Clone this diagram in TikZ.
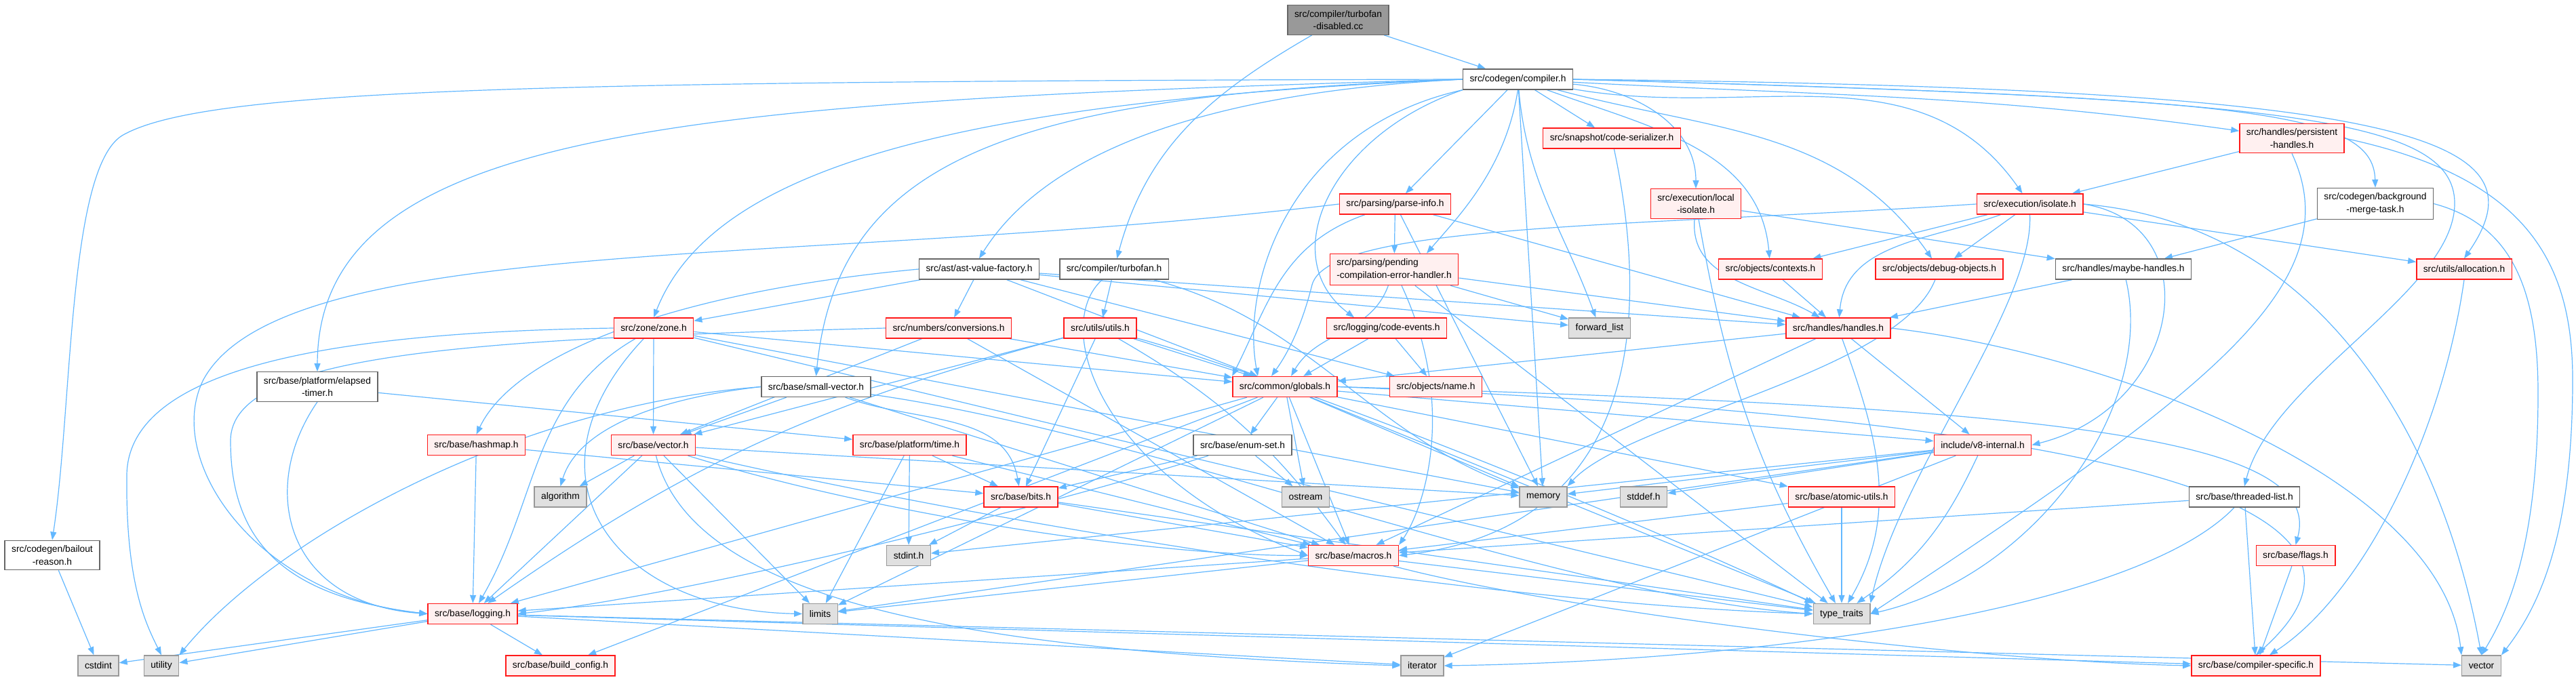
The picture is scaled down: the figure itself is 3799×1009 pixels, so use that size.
\documentclass[tikz,border=0pt]{standalone}
\usepackage{fontspec}
\setmainfont{Liberation Sans}
\usetikzlibrary{arrows.meta}
\pgfdeclarelayer{background}
\pgfsetlayers{background,main}
\definecolor{linkblue}{HTML}{63B8FF}
\definecolor{cutred}{HTML}{FF1A1A}
\definecolor{cutfill}{HTML}{FFF0F0}
\definecolor{sysfill}{HTML}{E0E0E0}
\definecolor{sysline}{HTML}{999999}
\definecolor{fileline}{HTML}{666666}

\begin{document}
\begin{tikzpicture}[
  x=1pt, y=-1pt,
  box/.style={rectangle, line width=1.4pt, inner xsep=10pt, inner ysep=7.5pt, minimum height=30pt, align=center, font=\fontsize{13.8}{18.3}\selectfont},
  rootfile/.style={box, draw=fileline, fill=sysline},
  hfile/.style={box, draw=fileline, fill=white},
  hcut/.style={box, draw=cutred, fill=cutfill},
  stdhdr/.style={box, draw=sysline, fill=sysfill},
  dep/.style={draw=linkblue, line width=1.2pt, -{Triangle[length=12pt,width=9pt]}},
  deps/.style={every edge/.style={dep}}
]
\useasboundingbox (0,0) rectangle (3799,1009);

% top rows
\node[rootfile] (tfd) at (1973.5,29.5) {src/compiler/turbofan\\-disabled.cc};
\node[hfile] (cc) at (2238.5,117) {src/codegen/compiler.h};
\node[hcut] (ser) at (2377,204) {src/snapshot/code-serializer.h};
\node[hcut] (per) at (3380,204) {src/handles/persistent\\-handles.h};
\node[hcut] (pinfo) at (2057.5,301) {src/parsing/parse-info.h};
\node[hcut] (liso) at (2501,300.5) {src/execution/local\\-isolate.h};
\node[hcut] (iso) at (2993.5,301) {src/execution/isolate.h};
\node[hfile] (bgm) at (3503,300.5) {src/codegen/background\\-merge-task.h};
\node[hfile] (avf) at (1444,397) {src/ast/ast-value-factory.h};
\node[hfile] (tfh) at (1643,397) {src/compiler/turbofan.h};
\node[hcut, align=left] (pend) at (2056,397.5) {src/parsing/pending\\-compilation-error-handler.h};
\node[hcut] (ctx) at (2611,397) {src/objects/contexts.h};
\node[hcut] (dbg) at (2860,397) {src/objects/debug-objects.h};
\node[hfile] (mh) at (3131.5,397) {src/handles/maybe-handles.h};
\node[hcut] (alloc) at (3634,397) {src/utils/allocation.h};
\node[hcut] (zone) at (964,484) {src/zone/zone.h};
\node[hcut] (conv) at (1399,484) {src/numbers/conversions.h};
\node[hcut] (utl) at (1622.5,484) {src/utils/utils.h};
\node[hcut] (cev) at (2045,484) {src/logging/code-events.h};
\node[stdhdr] (fwd) at (2359,484) {forward\_list};
\node[hcut] (hnd) at (2711,484) {src/handles/handles.h};

% middle rows
\node[hfile] (etim) at (468,570.5) {src/base/platform/elapsed\\-timer.h};
\node[hfile] (svec) at (1203.5,570.5) {src/base/small-vector.h};
\node[hcut] (glob) at (1895,570.5) {src/common/globals.h};
\node[hcut] (name) at (2117.5,570.5) {src/objects/name.h};
\node[hcut] (hmap) at (702.5,656.5) {src/base/hashmap.h};
\node[hcut] (vech) at (963.5,656.5) {src/base/vector.h};
\node[hcut] (time) at (1341.5,656.5) {src/base/platform/time.h};
\node[hfile] (eset) at (1832.5,656.5) {src/base/enum-set.h};
\node[hcut] (v8i) at (2924,656.5) {include/v8-internal.h};
\node[stdhdr] (algo) at (826.5,733) {algorithm};
\node[hcut] (bits) at (1505.5,733) {src/base/bits.h};
\node[stdhdr] (ostr) at (1925.5,733) {ostream};
\node[stdhdr] (mem) at (2276,733) {memory};
\node[stdhdr] (sdef) at (2424,733) {stddef.h};
\node[hcut] (atom) at (2716,733) {src/base/atomic-utils.h};
\node[hfile] (tlist) at (3310,733) {src/base/threaded-list.h};

% bottom rows
\node[hfile] (bail) at (77,819) {src/codegen/bailout\\-reason.h};
\node[stdhdr] (sint) at (1340,819.5) {stdint.h};
\node[hcut] (mac) at (1996,819.5) {src/base/macros.h};
\node[hcut] (flags) at (3385.5,819.5) {src/base/flags.h};
\node[hcut] (log) at (697,905.5) {src/base/logging.h};
\node[stdhdr] (lim) at (1209.5,905.5) {limits};
\node[stdhdr] (tt) at (2716,905.5) {type\_traits};
\node[stdhdr] (cstd) at (145,982) {cstdint};
\node[stdhdr] (util) at (238,982) {utility};
\node[hcut] (bcfg) at (826.5,982) {src/base/build\_config.h};
\node[stdhdr] (iter) at (2097.5,982) {iterator};
\node[hcut] (cspec) at (3327,982) {src/base/compiler-specific.h};
\node[stdhdr] (vec) at (3659.5,982) {vector};

\begin{pgfonlayer}{background}
\fill[white] (0,0) rectangle (3799,1009);
% includes of the .cc file
\path[deps] (tfd) edge (cc) edge[out=-150,in=75] (tfh);
% compiler.h
\path[deps] (cc) edge (pinfo) edge (ser) edge (mem) edge[out=-85,in=110] (fwd)
  edge[out=-20,in=95] (ctx) edge[out=-15,in=125] (dbg) edge[out=-5,in=90] (liso)
  edge[out=-10,in=125] (iso) edge[out=-3,in=172] (per);
\draw[dep] (cc.south) .. controls (2220,250) and (2150,320) .. ([xshift=48pt]pend.north);
\draw[dep] (cc.south west) .. controls (1960,200) and (1880,380) .. ([xshift=-48pt]cev.north);
\draw[dep] (cc.south west) .. controls (1900,190) and (1830,420) .. ([xshift=-40pt]glob.north);
\draw[dep] (cc.west) .. controls (1700,140) and (1520,260) .. (avf.north);
\draw[dep] (cc.west) .. controls (1000,150) and (469,190) .. (etim.north);
\draw[dep] (cc.west) .. controls (800,120) and (300,130) .. (180,200) .. controls (100,250) and (107,600) .. (bail.north);
\draw[dep] (cc.west) .. controls (1500,140) and (1236,230) .. (svec.north);
\draw[dep] (cc.west) .. controls (1400,150) and (1050,250) .. (zone.north);
\draw[dep] (cc.east) .. controls (3550,130) and (3760,200) .. (alloc.north);
\draw[dep] (cc.east) .. controls (3300,145) and (3500,160) .. (bgm.north);
\draw[dep] (cc.east) .. controls (3350,145) and (3620,170) .. (3620,300) .. controls (3620,430) and (3350,560) .. (tlist.north);
% turbofan.h and ast-value-factory.h
\path[deps] (tfh) edge (utl) edge[out=-15,in=160] (mem);
\draw[dep] (tfh) .. controls (1550,480) and (1620,700) .. (mac.west);
\path[deps] (avf) edge (conv) edge (zone) edge (glob) edge (name) edge (hnd) edge (fwd);
\draw[dep] (avf.west) .. controls (1000,430) and (760,520) .. (hmap.north);
% parsing, logging, snapshot
\draw[dep] (pinfo.west) .. controls (1200,395) and (420,340) .. (300,560) .. controls (240,680) and (380,880) .. (log.west);
\draw[dep] (pinfo) .. controls (1890,360) and (1870,450) .. (glob.north west);
\path[deps] (pinfo) edge (pend) edge (hnd) edge (mem);
\path[deps] (pend) edge (fwd) edge (hnd) edge (tt) edge[out=-110,in=60] (glob);
\draw[dep] (pend) .. controls (2150,600) and (2100,750) .. (mac.north east);
\path[deps] (cev) edge (glob) edge (name);
\draw[dep] (ser) .. controls (2440,500) and (2400,780) .. (mac.east);
% execution and handles
\path[deps] (liso) edge (mh) edge[out=-95,in=150] (hnd) edge[out=-80,in=120] (tt);
\path[deps] (iso) edge (ctx) edge (dbg) edge (alloc) edge[out=200,in=85] (hnd);
\draw[dep] (iso.west) .. controls (2400,335) and (1960,330) .. (1935,420) .. controls (1920,480) and (1900,520) .. ([xshift=-20pt]glob.north);
\draw[dep] (iso.east) .. controls (3260,330) and (3220,600) .. (v8i.east);
\draw[dep] (iso.east) .. controls (3420,330) and (3600,640) .. (vec.north);
\draw[dep] (iso.south) .. controls (3000,450) and (2800,700) .. (tt.north east);
\path[deps] (per) edge (iso);
\draw[dep] (per.south) .. controls (3470,420) and (3250,580) .. (tt.east);
\draw[dep] (per.east) .. controls (3720,260) and (3794,380) .. (3794,560) .. controls (3794,800) and (3740,900) .. (vec.north east);
\path[deps] (bgm) edge (mh);
\draw[dep] (bgm.east) .. controls (3700,330) and (3743,420) .. (3743,580) .. controls (3743,800) and (3700,900) .. (vec.north);
\draw[dep] (alloc.south) .. controls (3600,650) and (3480,880) .. ([xshift=20pt]cspec.north);
\path[deps] (ctx) edge (hnd);
\draw[dep] (dbg) .. controls (2800,550) and (2400,620) .. (mem.north east);
\path[deps] (mh) edge (hnd);
\draw[dep] (mh) .. controls (3180,600) and (3000,850) .. (tt.east);
\path[deps] (hnd) edge (glob) edge (mac) edge (v8i) edge[out=-70,in=60] (tt);
\draw[dep] (hnd.east) .. controls (3100,520) and (3600,700) .. (vec.north west);
% zone, numbers, utils
\path[deps] (zone) edge (vech) edge (glob) edge (mem) edge (tt) edge[out=-150,in=60] (log);
\draw[dep] (zone.west) .. controls (500,490) and (190,540) .. (187,700) .. controls (185,860) and (215,920) .. (util.north);
\draw[dep] (zone) .. controls (760,700) and (900,900) .. (lim.west);
\path[deps] (conv) edge (vech) edge (glob) edge (mac);
\draw[dep] (conv.west) .. controls (700,500) and (340,520) .. (340,650) .. controls (340,800) and (420,880) .. (log.west);
\path[deps] (utl) edge (bits) edge (glob) edge (vech) edge[out=195,in=35] (log)
  edge[out=-30,in=126] (mac);
\draw[dep] (utl) .. controls (1900,560) and (2400,760) .. (tt.north west);
% base headers
\draw[dep] (etim.south) .. controls (380,720) and (420,890) .. (log.west);
\path[deps] (etim) edge (time);
\path[deps] (svec) edge (vech) edge (mac) edge[out=-20,in=100] (bits);
\draw[dep] (svec.west) .. controls (950,590) and (850,640) .. (algo.north);
\draw[dep] (svec) .. controls (1700,640) and (2300,880) .. (tt.west);
\draw[dep] (svec.west) .. controls (750,600) and (400,800) .. (util.north east);
\path[deps] (hmap) edge (log) edge (bits);
\path[deps] (vech) edge (algo) edge (log) edge (lim) edge (mem);
\draw[dep] (vech) .. controls (1500,780) and (2200,890) .. (tt.west);
\draw[dep] (vech) .. controls (1300,760) and (1700,820) .. (mac.west);
\draw[dep] (vech) .. controls (1020,880) and (1400,960) .. (iter.west);
\path[deps] (time) edge (bits) edge (sint) edge (lim) edge (mac);
\path[deps] (bits) edge (sint) edge (mac) edge (tt);
\path[deps] (glob) edge (eset) edge (ostr) edge (mac) edge (log) edge (bcfg) edge (lim)
  edge (v8i) edge (atom) edge (mem) edge (tt);
\draw[dep] (glob.east) .. controls (3000,600) and (3430,640) .. (flags.north);
\draw[dep] (glob.east) .. controls (3200,620) and (3560,760) .. (cspec.north);
\path[deps] (eset) edge (bits) edge (ostr);
\draw[dep] (eset) .. controls (1500,760) and (1000,880) .. (log.east);
\path[deps] (v8i) edge (sdef) edge (mem) edge (sint) edge (lim) edge (iter) edge[out=245,in=35] (tt);
\path[deps] (atom) edge (tt) edge (mac);
\path[deps] (tlist) edge (cspec) edge (mac);
\draw[dep] (tlist) .. controls (3150,900) and (2600,975) .. (iter.east);
\path[deps] (flags) edge (cspec);
\path[deps] (mac) edge (log) edge (lim) edge (tt);
\draw[dep] (mac) .. controls (2300,900) and (2900,975) .. (cspec.west);
\path[deps] (log) edge (cstd) edge (util) edge (bcfg) edge (iter) edge (cspec) edge (vec);
\path[deps] (bail) edge (cstd);
\end{pgfonlayer}
\end{tikzpicture}
\end{document}
